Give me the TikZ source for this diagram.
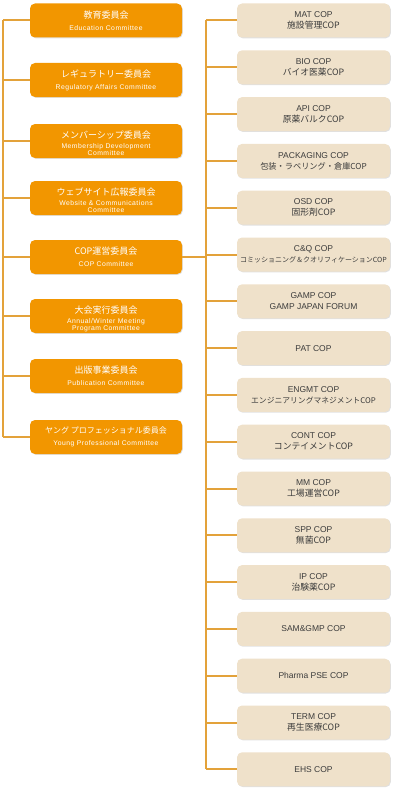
\documentclass[tikz,border=0pt]{standalone}
\usepackage{fontspec}
\setmainfont{Noto Sans CJK JP}
\newfontfamily\enfont{Liberation Sans}
\newfontfamily\enls[LetterSpace=7]{Liberation Sans}
\usetikzlibrary{shadows}
\definecolor{orangeC}{HTML}{F29600}
\definecolor{beigeC}{HTML}{EFE1CA}
\definecolor{lineC}{HTML}{E3A23A}
\definecolor{textC}{HTML}{3C3C3C}
\newcommand{\ljp}{\fontsize{9}{11.5}\selectfont}
\newcommand{\len}{\enls\fontsize{6.8}{7.2}\selectfont}
\newcommand{\rtx}{\fontsize{8.8}{11}\selectfont}
\newcommand{\ren}{\enfont\fontsize{8.5}{11}\selectfont}
\newcommand{\entwo}[2]{{\len\begin{tabular}{@{}c@{}}#1\\#2\end{tabular}}}
\newcommand{\topstrut}{\rule{0pt}{14pt}}
\tikzset{
  lbox/.style={rounded corners=5pt, fill=orangeC, minimum width=152pt, minimum height=34pt,
    inner sep=0pt, text=white, align=center,
    drop shadow={shadow xshift=0.8pt, shadow yshift=-0.8pt, fill=black, opacity=0.12}},
  rbox/.style={rounded corners=5pt, fill=beigeC, minimum width=153pt, minimum height=34pt,
    inner sep=0pt, text=textC, align=center, font=\rtx,
    drop shadow={shadow xshift=0.8pt, shadow yshift=-0.8pt, fill=black, opacity=0.12}},
  conn/.style={draw=lineC, line width=2pt}
}
\begin{document}
\begin{tikzpicture}[x=1pt,y=-1pt]
\useasboundingbox (0,0) rectangle (400,800);
% left boxes
\node[lbox] (l1) at (106,20.5) {\ljp 教育委員会\\\len Education Committee};
\node[lbox] (l2) at (106,80) {\ljp レギュラトリー委員会\\\len Regulatory Affairs Committee};
\node[lbox] (l3) at (106,141) {\ljp\topstrut メンバーシップ委員会\\[2pt]\entwo{Membership Development}{Committee}};
\node[lbox] (l4) at (106,198) {\ljp\topstrut ウェブサイト広報委員会\\[2pt]\entwo{Website \& Communications}{Committee}};
\node[lbox] (l5) at (106,257) {\ljp COP運営委員会\\\len COP Committee};
\node[lbox] (l6) at (106,316) {\ljp\topstrut 大会実行委員会\\[2pt]\entwo{Annual/Winter Meeting}{Program Committee}};
\node[lbox] (l7) at (106,376) {\ljp 出版事業委員会\\\len Publication Committee};
\node[lbox] (l8) at (106,437) {\fontsize{8}{11.5}\selectfont ヤング プロフェッショナル委員会\\\len Young Professional Committee};
% right boxes
\node[rbox] (r1) at (313.5,20.5) {{\ren MAT COP}\\施設管理COP};
\node[rbox] (r2) at (313.5,67.3) {{\ren BIO COP}\\バイオ医薬COP};
\node[rbox] (r3) at (313.5,114.1) {{\ren API COP}\\原薬バルクCOP};
\node[rbox] (r4) at (313.5,160.9) {{\ren PACKAGING COP}\\{\fontsize{8.2}{11}\selectfont 包装・ラベリング・倉庫COP}};
\node[rbox] (r5) at (313.5,207.7) {{\ren OSD COP}\\固形剤COP};
\node[rbox] (r6) at (313.5,254.5) {{\ren C\&Q COP}\\{\fontsize{7}{11}\selectfont コミッショニング＆クオリフィケーションCOP}};
\node[rbox] (r7) at (313.5,301.3) {{\ren GAMP COP}\\{\ren GAMP JAPAN FORUM}};
\node[rbox] (r8) at (313.5,348.1) {\ren PAT COP};
\node[rbox] (r9) at (313.5,394.9) {{\ren ENGMT COP}\\{\fontsize{7.8}{11}\selectfont エンジニアリングマネジメントCOP}};
\node[rbox] (r10) at (313.5,441.7) {{\ren CONT COP}\\コンテイメントCOP};
\node[rbox] (r11) at (313.5,488.5) {{\ren MM COP}\\工場運営COP};
\node[rbox] (r12) at (313.5,535.3) {{\ren SPP COP}\\無菌COP};
\node[rbox] (r13) at (313.5,582.1) {{\ren IP COP}\\治験薬COP};
\node[rbox] (r14) at (313.5,628.9) {\ren SAM\&GMP COP};
\node[rbox] (r15) at (313.5,675.7) {\ren Pharma PSE COP};
\node[rbox] (r16) at (313.5,722.5) {{\ren TERM COP}\\再生医療COP};
\node[rbox] (r17) at (313.5,769.3) {\ren EHS COP};
% trunks
\coordinate (lt) at (2.5,20.5);
\coordinate (lb) at (2.5,437);
\coordinate (rt) at (206,20.5);
\coordinate (rb) at (206,769.3);
\draw[conn] (lt) -- (lb);
\draw[conn] (rt) -- (rb);
\foreach \i in {1,...,8} {\draw[conn] (l\i.west) -- (l\i.west -| lt);}
\foreach \i in {1,...,17} {\draw[conn] (r\i.west) -- (r\i.west -| rt);}
\draw[conn] (l5.east) -- (l5.east -| rt);
\end{tikzpicture}
\end{document}
